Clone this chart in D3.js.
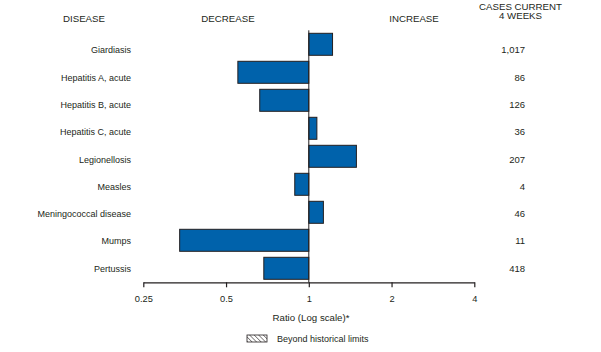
<!DOCTYPE html>
<html>
<head>
<meta charset="utf-8">
<script src="https://cdn.jsdelivr.net/npm/d3@7"></script>
<style>
  body { margin: 0; background: #fff; }
  svg text { font-family: "Liberation Sans", Arial, sans-serif; fill: #231f20; }
</style>
</head>
<body>
<div id="chart"></div>
<script>
// disease rows, top to bottom
const diseases = ["Giardiasis", "Hepatitis A, acute", "Hepatitis B, acute", "Hepatitis C, acute",
    "Legionellosis", "Measles", "Meningococcal disease", "Mumps", "Pertussis"];
// ratio of current 4-week totals to historical baseline
const ratios = [1.22, 0.552, 0.663, 1.07, 1.49, 0.889, 1.13, 0.339, 0.686];
const cases = ["1,017", "86", "126", "36", "207", "4", "46", "11", "418"];
const tickValues = [0.25, 0.5, 1, 2, 4];

const width = 601, height = 352;

const svg = d3.select("#chart").append("svg")
    .attr("width", width)
    .attr("height", height);

// Scales
const x = d3.scaleLog().base(2)
    .domain([0.25, 4])
    .range([143.3, 474.3]);

const y = d3.scaleBand()
    .domain(diseases)
    .range([30.3, 282.3])
    .paddingInner(6 / 28)
    .paddingOuter(3 / 28);

// text rows are spaced a little tighter than the bars
const yText = d3.scalePoint()
    .domain(diseases)
    .range([53.3, 271.8]);

// Hatch pattern for legend
const defs = svg.append("defs");
defs.append("pattern")
    .attr("id", "hatch")
    .attr("patternUnits", "userSpaceOnUse")
    .attr("width", 3.2)
    .attr("height", 3.2)
    .attr("patternTransform", "rotate(-45)")
    .append("line")
    .attr("x1", 0).attr("y1", 0)
    .attr("x2", 0).attr("y2", 3.2)
    .attr("stroke", "#231f20")
    .attr("stroke-width", 1);

// Column headers
const headers = svg.append("g").attr("font-size", 9.7).attr("text-anchor", "middle");
headers.append("text").attr("x", 84).attr("y", 22).text("DISEASE");
headers.append("text").attr("x", 228).attr("y", 22).text("DECREASE");
headers.append("text").attr("x", 414).attr("y", 22).text("INCREASE");
headers.append("text").attr("x", 520.5).attr("y", 9.5).text("CASES CURRENT");
headers.append("text").attr("x", 520.5).attr("y", 19).text("4 WEEKS");

// Bars
svg.append("g")
    .selectAll("rect")
    .data(ratios)
    .join("rect")
    .attr("x", d => Math.min(x(d), x(1)))
    .attr("y", (d, i) => y(diseases[i]))
    .attr("width", d => Math.abs(x(d) - x(1)))
    .attr("height", y.bandwidth())
    .attr("fill", "#0062ab")
    .attr("stroke", "#231f20")
    .attr("stroke-width", 1);

// Reference line at ratio 1
svg.append("line")
    .attr("x1", x(1)).attr("x2", x(1))
    .attr("y1", 30.3).attr("y2", 282.3)
    .attr("stroke", "#231f20")
    .attr("stroke-width", 1);

// Disease labels
svg.append("g")
    .attr("font-size", 9)
    .attr("text-anchor", "end")
    .selectAll("text")
    .data(diseases)
    .join("text")
    .attr("x", 131)
    .attr("y", d => yText(d))
    .text(d => d);

// Case counts
svg.append("g")
    .attr("font-size", 9.5)
    .attr("text-anchor", "end")
    .selectAll("text")
    .data(cases)
    .join("text")
    .attr("x", 525)
    .attr("y", (d, i) => yText(diseases[i]))
    .text(d => d);

// X axis
const xAxis = svg.append("g")
    .attr("transform", "translate(0,282.3)")
    .call(d3.axisBottom(x)
        .tickValues(tickValues)
        .tickFormat(d => String(d))
        .tickSize(5)
        .tickSizeOuter(0));

xAxis.select(".domain").attr("stroke", "#231f20").attr("stroke-width", 1.2);
xAxis.selectAll(".tick line").attr("stroke", "#231f20").attr("stroke-width", 1.2);
xAxis.selectAll(".tick text")
    .attr("y", 13)
    .attr("font-size", 9.3)
    .attr("font-family", "Liberation Sans, Arial, sans-serif")
    .attr("fill", "#231f20");

svg.append("text")
    .attr("x", 311)
    .attr("y", 320.5)
    .attr("font-size", 9.7)
    .attr("text-anchor", "middle")
    .text("Ratio (Log scale)*");

// Legend
svg.append("rect")
    .attr("x", 247).attr("y", 335)
    .attr("width", 20).attr("height", 7)
    .attr("fill", "url(#hatch)")
    .attr("stroke", "#231f20")
    .attr("stroke-width", 0.8);

svg.append("text")
    .attr("x", 277)
    .attr("y", 342)
    .attr("font-size", 9)
    .text("Beyond historical limits");
</script>
</body>
</html>
